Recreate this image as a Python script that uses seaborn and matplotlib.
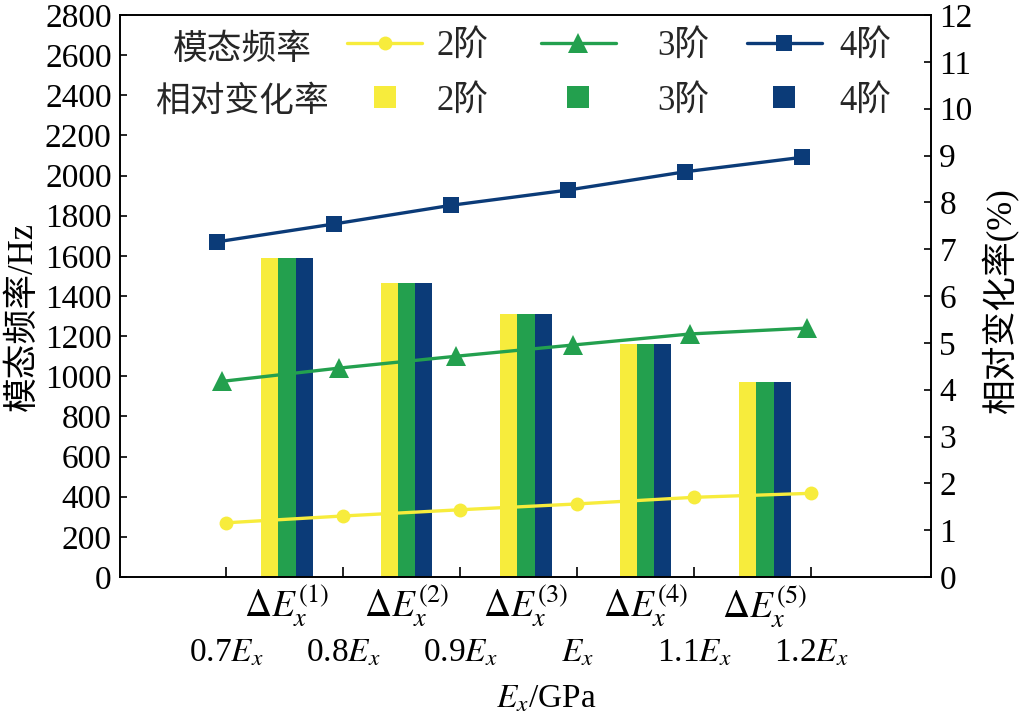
"""Modal frequency vs Ex with relative change bars (dual axis)."""

import matplotlib
matplotlib.use("Agg")
import matplotlib.pyplot as plt
from matplotlib.lines import Line2D
import numpy as np
import pandas as pd
import seaborn as sns

# modal frequency (Hz) at each Ex level
ex_labels = [r"0.7$E_x$", r"0.8$E_x$", r"0.9$E_x$", r"$E_x$", r"1.1$E_x$", r"1.2$E_x$"]
freq_2 = [270, 304, 335, 364, 397, 417]
freq_3 = [975, 1041, 1100, 1156, 1211, 1240]
freq_4 = [1670, 1759, 1852, 1928, 2019, 2091]

# relative change rate (%) between neighbouring Ex levels
step_labels = [r"$\Delta E_x^{(%d)}$" % k for k in range(1, 6)]
rate_2 = [6.82, 6.27, 5.61, 4.97, 4.17]
rate_3 = [6.82, 6.27, 5.61, 4.97, 4.17]
rate_4 = [6.82, 6.27, 5.61, 4.97, 4.17]

orders = ["2阶", "3阶", "4阶"]
colors = ["#F7EC3C", "#23A04E", "#0B3B78"]
markers = {"2阶": "o", "3阶": "^", "4阶": "s"}
marker_sizes = {"2阶": 10, "3阶": 14, "4阶": 11}
x_shift = {"2阶": 0.0, "3阶": -0.03, "4阶": -0.075}

freq_df = pd.DataFrame({
    "level": np.tile(np.arange(len(ex_labels)), len(orders)),
    "freq": freq_2 + freq_3 + freq_4,
    "order": np.repeat(orders, len(ex_labels)),
})
rate_df = pd.DataFrame({
    "step": step_labels * len(orders),
    "rate": rate_2 + rate_3 + rate_4,
    "order": np.repeat(orders, len(step_labels)),
})

sns.set_theme(style="ticks")
plt.rcParams["font.family"] = ["Liberation Serif", "Noto Sans CJK SC"]
plt.rcParams["mathtext.fontset"] = "stix"
plt.rcParams["axes.unicode_minus"] = False
plt.rcParams["axes.linewidth"] = 1.2
plt.rcParams["axes.edgecolor"] = "black"

fs_tick = 24
fs_cjk = 25

fig = plt.figure(figsize=(10.2, 7.23), dpi=100)
rect = [120 / 1020, 1 - 577 / 723, (931 - 120) / 1020, (577 - 15) / 723]
ax_bar = fig.add_axes(rect)
ax = fig.add_axes(rect)
ax.patch.set_visible(False)

# bars: relative change rate on the right axis
sns.barplot(data=rate_df, x="step", y="rate", hue="order", hue_order=orders,
            palette=colors, width=0.43, gap=0, saturation=1, linewidth=0,
            errorbar=None, legend=False, ax=ax_bar)
ax_bar.set_xlim(-1.397, 5.389)
ax_bar.set_ylim(0, 12)
ax_bar.set_yticks(range(0, 13))
ax_bar.yaxis.tick_right()
ax_bar.yaxis.set_label_position("right")
ax_bar.tick_params(axis="y", direction="in", length=5, width=1.2, labelsize=fs_tick,
                   pad=6, colors="black")
ax_bar.tick_params(axis="x", length=0, labelsize=27, pad=4, colors="black")
ax_bar.set_xlabel("")
ax_bar.set_ylabel("相对变化率(%)", fontsize=fs_cjk, color="black")
ax_bar.yaxis.set_label_coords(1.063, 0.49)

# lines: modal frequency on the left axis
for order, color in zip(orders, colors):
    sub = freq_df[freq_df["order"] == order]
    sns.lineplot(x=sub["level"] + x_shift[order], y=sub["freq"], color=color,
                 marker=markers[order], markersize=marker_sizes[order],
                 markeredgewidth=0, linewidth=2.4, ax=ax)
ax.set_xlim(-0.906, 6.026)
ax.set_ylim(0, 2800)
ax.set_yticks(range(0, 2801, 200))
ax.set_xticks(range(len(ex_labels)))
ax.set_xticklabels(ex_labels)
ax.tick_params(axis="y", direction="in", length=5, width=1.2, labelsize=fs_tick,
               pad=6, colors="black")
ax.tick_params(axis="x", direction="in", length=7, width=1.2, labelsize=fs_tick,
               pad=44, colors="black")
ax.set_ylabel("模态频率/Hz", fontsize=fs_cjk, color="black")
ax.yaxis.set_label_coords(-0.099, 0.464)
ax.set_xlabel(r"$E_x$/GPa", fontsize=fs_tick, color="black")
ax.xaxis.set_label_coords(0.525, -0.19)

# legend: one small legend per order, lines on top row, bars below
col_left = [347, 541, 747]
text_pad = [0.43, 1.2, 0.5]
legends = []
for i, (order, color) in enumerate(zip(orders, colors)):
    handles = [
        Line2D([], [], color=color, marker=markers[order],
               markersize=marker_sizes[order], markeredgewidth=0,
               linewidth=2.4, label=order),
        Line2D([], [], color=color, linestyle="none", marker="s",
               markersize=16.5, markeredgewidth=0, label=order),
    ]
    leg = ax.legend(handles=handles, loc="upper left", frameon=False,
                    bbox_to_anchor=(col_left[i] / 1020, 1 - 30 / 723),
                    bbox_transform=fig.transFigure,
                    handlelength=2.16, handletextpad=text_pad[i],
                    labelspacing=0.62, borderpad=0, borderaxespad=0,
                    prop={"size": fs_cjk})
    legends.append(leg)
for leg in legends[:-1]:
    ax.add_artist(leg)

fig.text(242 / 1020, 1 - 50 / 723, "模态频率", fontsize=fs_cjk, ha="center", va="center")
fig.text(242 / 1020, 1 - 102 / 723, "相对变化率", fontsize=fs_cjk, ha="center", va="center")

fig.savefig("out.png", dpi=100)
plt.close(fig)
